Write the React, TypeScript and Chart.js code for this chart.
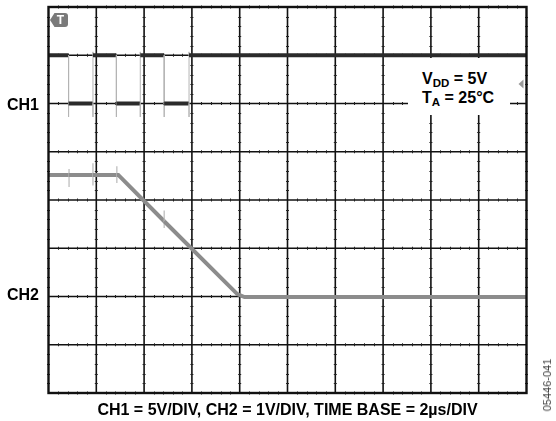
import React, { useEffect, useRef } from "react";
import { Chart, registerables } from "chart.js";

Chart.register(...registerables);

// time in divisions (2 µs/div), level in divisions from bottom of screen
const ch1Time = [0, 0.42, 0.42, 0.42, 0.93, 0.93, 0.93, 0.93, 1.42, 1.42, 1.42, 1.92, 1.92, 1.92, 1.92, 2.42, 2.42, 2.42, 2.94, 2.94, 2.94, 2.94, 10];
const ch1Level = [7, 7, 5.72, 6, 6, 5.72, 7.07, 7, 7, 5.72, 6, 6, 5.72, 7.07, 7, 7, 5.72, 6, 6, 5.72, 7.07, 7, 7];

const ch2Time = [0, 0.43, 0.43, 0.43, 0.43, 0.93, 0.93, 0.93, 0.93, 1.43, 1.43, 1.43, 1.43, 1.46, 2.42, 2.42, 2.42, 2.42, 3.95, 4.1, 10];
const ch2Level = [4.52, 4.52, 4.64, 4.27, 4.52, 4.52, 4.76, 4.3, 4.52, 4.52, 4.7, 4.35, 4.52, 4.52, 3.56, 3.78, 3.42, 3.56, 2.05, 1.99, 1.99];

const xDivisions = 10;
const yDivisions = 8;
const channelLabels = ["CH1", "CH2"];
const channelRefLevels = [6, 2];
const captionText = "CH1 = 5V/DIV, CH2 = 1V/DIV, TIME BASE = 2µs/DIV";
const figureId = "05446-041";

const toPoints = (xs: number[], ys: number[]) => xs.map((x, i) => ({ x, y: ys[i] }));

const gridPlugin = {
  id: "scopeGrid",
  beforeDatasetsDraw(chart: any) {
    const { ctx, chartArea, scales } = chart;
    const xs = scales.x;
    const ys = scales.y;
    ctx.save();
    ctx.strokeStyle = "#111";
    ctx.lineWidth = 1.6;
    for (let i = 1; i < xDivisions; i++) {
      const px = xs.getPixelForValue(i);
      ctx.beginPath();
      ctx.moveTo(px, chartArea.top);
      ctx.lineTo(px, chartArea.bottom);
      ctx.stroke();
    }
    for (let j = 1; j < yDivisions; j++) {
      const py = ys.getPixelForValue(j);
      ctx.beginPath();
      ctx.moveTo(chartArea.left, py);
      ctx.lineTo(chartArea.right, py);
      ctx.stroke();
    }
    // minor ticks
    ctx.lineWidth = 1;
    ctx.strokeStyle = "#222";
    for (let i = 0; i <= xDivisions; i++) {
      const px = xs.getPixelForValue(i);
      for (let k = 1; k < yDivisions * 5; k++) {
        if (k % 5 === 0) continue;
        const py = Math.round(ys.getPixelForValue(k / 5)) + 0.5;
        ctx.beginPath();
        ctx.moveTo(px - 1.5, py);
        ctx.lineTo(px + 1.5, py);
        ctx.stroke();
      }
    }
    for (let j = 0; j <= yDivisions; j++) {
      const py = ys.getPixelForValue(j);
      for (let k = 1; k < xDivisions * 5; k++) {
        if (k % 5 === 0) continue;
        const px = Math.round(xs.getPixelForValue(k / 5)) + 0.5;
        ctx.beginPath();
        ctx.moveTo(px, py - 1.5);
        ctx.lineTo(px, py + 1.5);
        ctx.stroke();
      }
    }
    ctx.restore();
  },
  afterDraw(chart: any) {
    const { ctx, chartArea } = chart;
    ctx.save();
    ctx.strokeStyle = "#111";
    ctx.lineWidth = 2.4;
    ctx.strokeRect(chartArea.left, chartArea.top, chartArea.right - chartArea.left, chartArea.bottom - chartArea.top);
    // trigger marker (top-left)
    ctx.fillStyle = "#7a7a7a";
    ctx.beginPath();
    ctx.moveTo(50, 20);
    ctx.lineTo(54.5, 13);
    ctx.lineTo(65, 13);
    ctx.quadraticCurveTo(68, 13, 68, 16);
    ctx.lineTo(68, 24);
    ctx.quadraticCurveTo(68, 27, 65, 27);
    ctx.lineTo(54.5, 27);
    ctx.closePath();
    ctx.fill();
    ctx.fillStyle = "#fff";
    ctx.font = "bold 12px 'Liberation Sans', Arial, sans-serif";
    ctx.textAlign = "center";
    ctx.textBaseline = "middle";
    ctx.fillText("T", 60.5, 20.5);
    // trigger level marker (right)
    ctx.fillStyle = "#9a9a9a";
    ctx.beginPath();
    ctx.moveTo(518.5, 84);
    ctx.lineTo(523.5, 79.5);
    ctx.lineTo(523.5, 88.5);
    ctx.closePath();
    ctx.fill();
    ctx.restore();
  },
};

export default function App() {
  const canvasRef = useRef<HTMLCanvasElement | null>(null);

  useEffect(() => {
    if (!canvasRef.current) return;
    const vertical = (c: any) => c.p0.parsed.x === c.p1.parsed.x;
    const chart = new Chart(canvasRef.current, {
      type: "scatter",
      data: {
        datasets: [
          {
            label: "CH2",
            data: toPoints(ch2Time, ch2Level),
            showLine: true,
            pointRadius: 0,
            borderColor: "#8c8c8c",
            borderWidth: 4,
            segment: {
              borderWidth: (c: any) => (vertical(c) ? 1.2 : 4),
              borderColor: (c: any) => (vertical(c) ? "#b8b8b8" : "#8c8c8c"),
            },
          },
          {
            label: "CH1",
            data: toPoints(ch1Time, ch1Level),
            showLine: true,
            pointRadius: 0,
            borderColor: "#2b2b2b",
            borderWidth: 3.8,
            segment: {
              borderWidth: (c: any) => (vertical(c) ? 1 : 3.8),
              borderColor: (c: any) => (vertical(c) ? "#b4b4b4" : "#2b2b2b"),
            },
          },
        ],
      },
      options: {
        animation: false,
        responsive: false,
        maintainAspectRatio: false,
        layout: { padding: { left: 48.5, right: 29.5, top: 7, bottom: 28 } },
        scales: {
          x: { type: "linear", min: 0, max: xDivisions, display: false },
          y: { type: "linear", min: 0, max: yDivisions, display: false },
        },
        plugins: { legend: { display: false }, tooltip: { enabled: false } },
      },
      plugins: [gridPlugin],
    } as any);
    return () => chart.destroy();
  }, []);

  const font = "'Liberation Sans', Arial, Helvetica, sans-serif";
  const plotTop = 7;
  const plotH = 386;
  const labelY = (v: number) => plotTop + plotH * (1 - v / yDivisions);
  const labelShift = [-8, -11];

  return (
    <div style={{ position: "fixed", left: 0, top: 0, width: 556, height: 421, background: "#fff", fontFamily: font }}>
      <canvas ref={canvasRef} width={556} height={421} style={{ position: "absolute", left: 0, top: 0, width: 556, height: 421 }} />
      {channelLabels.map((t, i) => (
        <div key={t} style={{ position: "absolute", left: 7, top: labelY(channelRefLevels[i]) + labelShift[i], fontSize: 16, fontWeight: "bold", lineHeight: "18px", color: "#000" }}>
          {t}
        </div>
      ))}
      <div style={{ position: "absolute", left: 408, top: 58, width: 102, height: 57, background: "#fff" }}>
        <div style={{ position: "absolute", left: 14, top: 13, fontSize: 16, fontWeight: "bold", lineHeight: "16px", whiteSpace: "nowrap" }}>
          V<sub style={{ fontSize: 11.5, verticalAlign: "-3px" }}>DD</sub> = 5V
        </div>
        <div style={{ position: "absolute", left: 14, top: 32, fontSize: 16, fontWeight: "bold", lineHeight: "16px", whiteSpace: "nowrap" }}>
          T<sub style={{ fontSize: 11.5, verticalAlign: "-3px" }}>A</sub> = 25°C
        </div>
      </div>
      <div style={{ position: "absolute", left: 48.5, width: 478, top: 401, textAlign: "center", fontSize: 16, fontWeight: "bold", lineHeight: "18px", whiteSpace: "nowrap" }}>
        {captionText}
      </div>
      <div style={{ position: "absolute", left: 547, top: 385, transform: "translate(-50%, -50%) rotate(-90deg)", fontSize: 11, color: "#444", whiteSpace: "nowrap", lineHeight: "12px" }}>
        {figureId}
      </div>
    </div>
  );
}
